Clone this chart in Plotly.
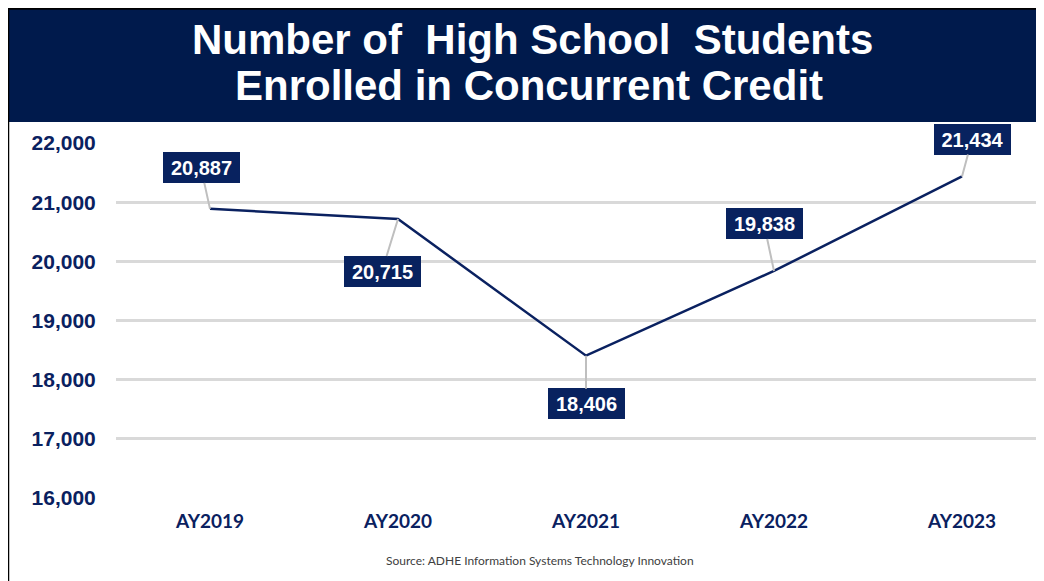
import plotly.graph_objects as go

categories = ["AY2019", "AY2020", "AY2021", "AY2022", "AY2023"]
students = [20887, 20715, 18406, 19838, 21434]
label_text = ["20,887", "20,715", "18,406", "19,838", "21,434"]
# label box offsets (pixels) relative to each point
label_dx = [-9, -16, 0, -10, 10]
label_dy = [-41, 52, 48, -47, -37]
y_ticks = [16000, 17000, 18000, 19000, 20000, 21000, 22000]
y_tick_text = ["16,000", "17,000", "18,000", "19,000", "20,000", "21,000", "22,000"]

OFF = 8  # page body margin
W, H = 1044 - OFF, 581 - OFF
L, T = 116 - OFF, 143 - OFF
B = H - (498 - OFF)
R = 0
PW, PH = W - L - R, H - T - B


def px_x(px):
    # px given in page coordinates
    return (px - OFF - L) / PW


def px_y(py):
    return (H - B - (py - OFF)) / PH


NAVY_HDR = "#001A4C"
NAVY = "#0A2160"
BOX = "#08225F"

fig = go.Figure()
fig.add_trace(go.Scatter(
    x=categories, y=students, mode="lines",
    line=dict(color=NAVY, width=2.5), hoverinfo="skip", showlegend=False,
))

annotations = []
for c, v, t, dx, dy in zip(categories, students, label_text, label_dx, label_dy):
    annotations.append(dict(
        x=c, y=v, xref="x", yref="y", text="<b>" + t + "</b>",
        showarrow=True, arrowhead=0, arrowwidth=2, arrowcolor="#BFBFBF",
        ax=dx, ay=dy, standoff=0, startstandoff=0,
        font=dict(family="Liberation Sans, Arial", size=20, color="white"),
        bgcolor=BOX, bordercolor=BOX, borderwidth=1, width=75, height=29, borderpad=0,
    ))

annotations += [
    dict(x=px_x(532), y=px_y(40), xref="paper", yref="paper", showarrow=False,
         text="<b>Number of  High School  Students</b>", xanchor="center", yanchor="middle",
         font=dict(family="Liberation Sans, Arial", size=42, color="white")),
    dict(x=px_x(529), y=px_y(85), xref="paper", yref="paper", showarrow=False,
         text="<b>Enrolled in Concurrent Credit</b>", xanchor="center", yanchor="middle",
         font=dict(family="Liberation Sans, Arial", size=42, color="white")),
    dict(x=px_x(540), y=px_y(560), xref="paper", yref="paper", showarrow=False,
         text="Source: ADHE Information Systems Technology Innovation",
         xanchor="center", yanchor="middle",
         font=dict(family="Lato, Open Sans", size=12, color="#404040")),
]

shapes = [
    dict(type="rect", xref="paper", yref="paper", x0=px_x(9), x1=px_x(1050),
         y0=px_y(122), y1=px_y(9), fillcolor=NAVY_HDR, line=dict(width=0), layer="below"),
    dict(type="line", xref="paper", yref="paper", x0=px_x(7), x1=px_x(1050),
         y0=px_y(8.5), y1=px_y(8.5), line=dict(color="black", width=2.5)),
    dict(type="line", xref="paper", yref="paper", x0=px_x(8), x1=px_x(8),
         y0=px_y(7), y1=px_y(600), line=dict(color="black", width=2.5)),
]

fig.update_layout(
    width=W, height=H,
    margin=dict(l=L, r=R, t=T, b=B),
    paper_bgcolor="white", plot_bgcolor="white",
    annotations=annotations, shapes=shapes,
    xaxis=dict(
        type="category", range=[-0.5, -0.5 + PW / 188.0],
        showgrid=False, zeroline=False, showline=False,
        ticks="outside", ticklen=6, tickcolor="rgba(0,0,0,0)",
        tickfont=dict(family="Lato, Liberation Sans", size=19, color=NAVY),
        tickvals=categories, ticktext=["<b>" + c + "</b>" for c in categories],
    ),
    yaxis=dict(
        range=[16000, 22000], tickvals=y_ticks,
        ticktext=["<b>" + t + "</b>" for t in y_tick_text],
        showgrid=True, gridcolor="#D9D9D9", gridwidth=3,
        zeroline=False, showline=False,
        ticks="outside", ticklen=15, tickcolor="rgba(0,0,0,0)",
        tickfont=dict(family="Liberation Sans, Arial", size=21, color=NAVY),
    ),
)

fig.write_html("out.html")
